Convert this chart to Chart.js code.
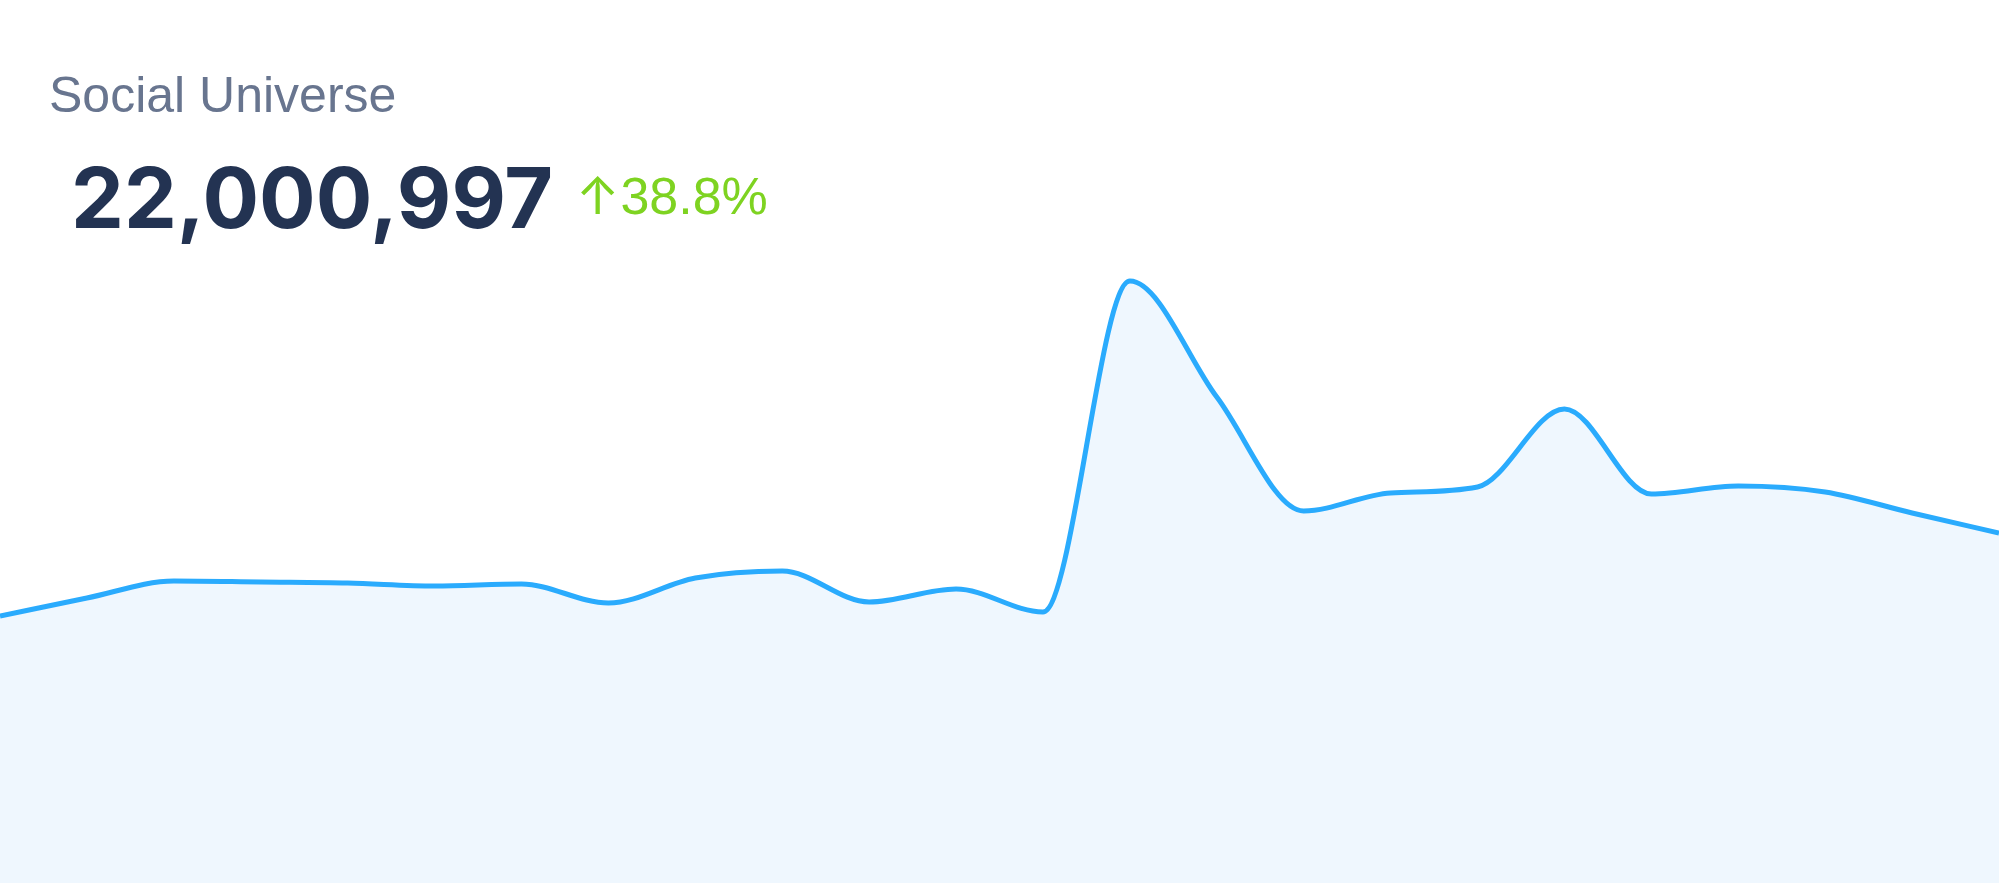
<!DOCTYPE html>
<html>
<head>
<meta charset="utf-8">
<script src="https://cdn.jsdelivr.net/npm/chart.js@4"></script>
<style>
  html, body { margin: 0; padding: 0; background: #fff; }
  body { width: 1999px; height: 883px; position: relative; overflow: hidden; }
  #chartWrap { position: absolute; left: 0; top: 0; width: 1999px; height: 883px; }
  .title {
    position: absolute; left: 49px; top: 70px;
    font: 400 50px "Liberation Sans", Arial, sans-serif; line-height: 1;
    color: #68758f; white-space: nowrap;
  }
  .total {
    position: absolute; left: 71px; top: 156px;
    font: 700 84px Inter, "Liberation Sans", sans-serif; line-height: 1;
    color: #233352; white-space: nowrap;
  }
  .change {
    position: absolute; left: 576px; top: 170px;
    font: 400 52px "Liberation Sans", Arial, sans-serif; line-height: 1;
    color: #7ed321; white-space: nowrap;
  }
  .change .arrow { font-family: Inter, "DejaVu Sans", sans-serif; font-size: 52px; margin-right: 1px; }
</style>
</head>
<body>
<div id="chartWrap"><canvas id="reachChart"></canvas></div>
<div class="title">Social Universe</div>
<div class="total">22,000,997</div>
<div class="change"><span class="arrow">↑</span>38.8%</div>
<script>
// Daily points along the area line
const days = ['1', '2', '3', '4', '5', '6', '7', '8', '9', '10', '11', '12',
              '13', '14', '15', '16', '17', '18', '19', '20', '21', '22', '23', '24'];
const reach = [267, 285, 302, 301, 300, 297, 299, 280, 305, 312, 281, 294,
               271, 602, 486, 372, 390, 396, 474, 389, 397, 391, 370, 350];
const yMin = 0;
const yMax = 883;

const ctx = document.getElementById('reachChart').getContext('2d');

new Chart(ctx, {
    type: 'line',
    data: {
        labels: days,
        datasets: [{
            label: 'Social Universe',
            data: reach,
            borderColor: '#2aabfd',
            backgroundColor: '#eff7fe',
            borderWidth: 5,
            fill: 'origin',
            pointRadius: 0,
            cubicInterpolationMode: 'monotone'
        }]
    },
    options: {
        responsive: true,
        maintainAspectRatio: false,
        animation: false,
        layout: { padding: 0 },
        scales: {
            x: { display: false, offset: false },
            y: { display: false, min: yMin, max: yMax }
        },
        plugins: {
            legend: { display: false },
            tooltip: { enabled: false }
        }
    }
});
</script>
</body>
</html>
